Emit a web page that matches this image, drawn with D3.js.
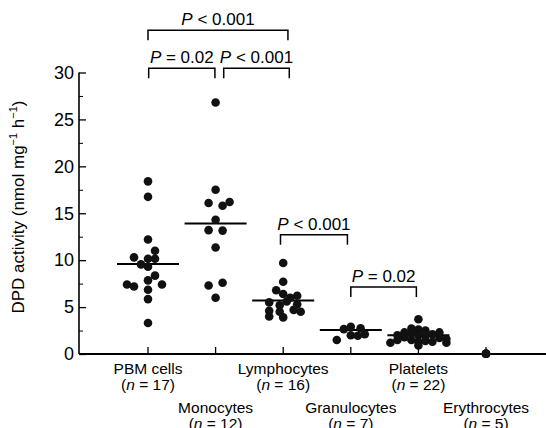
<!DOCTYPE html>
<html>
<head>
<meta charset="utf-8">
<script src="https://cdn.jsdelivr.net/npm/d3@7"></script>
<style>
  body { margin: 0; background: #fff; }
  svg { font-family: "Liberation Sans", Arial, Helvetica, sans-serif; }
</style>
</head>
<body>
<svg id="chart" width="546" height="428"></svg>
<script>
// cell groups shown along the x axis
const groups = ['PBM cells', 'Monocytes', 'Lymphocytes', 'Granulocytes', 'Platelets', 'Erythrocytes'];
const counts = [17, 12, 16, 7, 22, 5];

// each point is [DPD activity, jitter slot]
const pbm = [[18.4, 0], [16.75, 0], [12.2, 0], [11.0, 1], [10.3, -2], [10.15, 0], [10.15, 1], [9.55, -1],
  [9.3, 0], [8.35, 1], [7.85, 0], [7.4, -3], [7.2, -2], [7.4, 2], [6.85, 0], [5.85, 0], [3.3, 0]];
const monocytes = [[26.8, 0], [17.5, 0], [16.1, -1], [15.8, 1], [16.2, 2], [14.3, 0], [13.2, -1], [13.15, 1],
  [11.35, 0], [7.3, -1], [7.6, 1], [6.0, 0]];
const lymphocytes = [[9.7, 0], [7.7, 0], [6.8, -1], [6.4, 0], [6.2, 2], [6.0, 1], [5.5, -2], [5.6, 0.5],
  [5.3, 2], [5.2, -0.5], [4.6, -2], [4.5, -0.5], [4.7, 1.5], [4.5, 2.5], [4.0, -2], [3.9, 0]];
const granulocytes = [[1.5, -2], [2.65, -1], [2.9, 0], [2.75, 1.4], [2.0, 0], [1.95, 1], [2.1, 2]];
const platelets = [[3.7, 0], [2.7, -1], [2.6, 0], [2.5, 1], [2.3, -2], [2.2, -1], [2.0, 0], [2.1, 2], [2.3, 3],
  [2.0, -3], [1.9, 1], [1.8, -2], [1.7, 3], [1.6, 4], [1.5, -3], [1.5, -1], [1.4, 1], [1.3, 0], [1.3, 2],
  [1.2, -4], [1.2, 4], [0.9, 0]];
const erythrocytes = [[0.02, 0], [0.02, 0], [0.02, 0], [0.02, 0], [0.02, 0]];
const values = [pbm, monocytes, lymphocytes, granulocytes, platelets, erythrocytes];

const medians = [9.6, 13.9, 5.7, 2.55, 2.0, 0];

const yTicks = [0, 5, 10, 15, 20, 25, 30];

// significance brackets: [from index, to index, level, label]
const brackets = [
  [0, 2.07, 34.5, 'P < 0.001'],
  [0.01, 0.99, 30.45, 'P = 0.02'],
  [1.12, 2.09, 30.45, 'P < 0.001'],
  [1.96, 2.95, 12.7, 'P < 0.001'],
  [3.0, 3.97, 7.15, 'P = 0.02']
];

const svg = d3.select('#chart');
const axisX = 79, axisBottom = 354;

const x = d3.scalePoint().domain(groups).range([148, 486]);
const xi = d3.scaleLinear().domain([0, groups.length - 1]).range([148, 486]);
const y = d3.scaleLinear().domain([0, 30]).range([axisBottom, 72.5]);
const slot = 7;

// y axis, ticks pointing inwards
const yAxis = svg.append('g')
  .attr('transform', `translate(${axisX},0)`)
  .call(d3.axisRight(y).tickValues(yTicks).tickSize(7).tickFormat(''));
yAxis.select('.domain').attr('d', `M0,${y(30)}V${axisBottom}`).attr('stroke-width', 1.6);
yAxis.selectAll('.tick line').attr('stroke-width', 1.3);
svg.append('g')
  .attr('transform', `translate(${axisX},0)`)
  .call(d3.axisRight(y).tickValues(d3.range(2.5, 30, 5)).tickSize(4).tickFormat(''))
  .call(g => g.select('.domain').remove());

svg.append('g').selectAll('text')
  .data(yTicks).join('text')
  .attr('x', axisX - 5).attr('y', d => y(d))
  .attr('dy', '0.35em')
  .attr('text-anchor', 'end')
  .attr('font-size', 18)
  .text(d => d);

// x axis, ticks pointing up
svg.append('line')
  .attr('x1', axisX).attr('x2', 546)
  .attr('y1', axisBottom).attr('y2', axisBottom)
  .attr('stroke', '#000').attr('stroke-width', 1.8);
svg.append('g').selectAll('line')
  .data(groups).join('line')
  .attr('x1', d => x(d)).attr('x2', d => x(d))
  .attr('y1', axisBottom).attr('y2', axisBottom - 7)
  .attr('stroke', '#000').attr('stroke-width', 1.3);

// category labels in two staggered rows
const labels = svg.append('g').attr('font-size', 15.5).attr('text-anchor', 'middle');
groups.forEach((g, i) => {
  const base = i % 2 === 0 ? 374 : 413;
  labels.append('text').attr('x', x(g)).attr('y', base).text(g);
  const t = labels.append('text').attr('x', x(g)).attr('y', base + 16);
  t.append('tspan').text('(');
  t.append('tspan').attr('font-style', 'italic').text('n');
  t.append('tspan').text(' = ' + counts[i] + ')');
});

// y axis title
const yTitle = svg.append('text')
  .attr('transform', 'translate(24,207) rotate(-90)')
  .attr('text-anchor', 'middle')
  .attr('font-size', 17);
yTitle.append('tspan').text('DPD activity (nmol mg');
yTitle.append('tspan').attr('font-size', 11).attr('dy', -7).text('\u22121');
yTitle.append('tspan').attr('dy', 7).text(' h');
yTitle.append('tspan').attr('font-size', 11).attr('dy', -7).text('\u22121');
yTitle.append('tspan').attr('dy', 7).text(')');

// median lines
svg.append('g').selectAll('line')
  .data(groups).join('line')
  .attr('x1', d => x(d) - 31).attr('x2', (d, i) => x(d) + 31)
  .attr('y1', (d, i) => y(medians[i])).attr('y2', (d, i) => y(medians[i]))
  .attr('stroke', '#000').attr('stroke-width', 2);

// points
groups.forEach((g, i) => {
  svg.append('g').selectAll('circle')
    .data(values[i]).join('circle')
    .attr('cx', d => x(g) + d[1] * slot)
    .attr('cy', d => y(d[0]))
    .attr('r', 4.3)
    .attr('fill', '#111');
});

// brackets
const br = svg.append('g');
brackets.forEach(([a, b, level, label]) => {
  const x0 = xi(a), x1 = xi(b), yy = y(level);
  br.append('path')
    .attr('d', `M${x0},${yy + 10}V${yy}H${x1}V${yy + 10}`)
    .attr('fill', 'none').attr('stroke', '#000').attr('stroke-width', 1.5);
  const t = br.append('text')
    .attr('x', (x0 + x1) / 2).attr('y', yy - 5)
    .attr('text-anchor', 'middle').attr('font-size', 17);
  t.append('tspan').attr('font-style', 'italic').text(label.slice(0, 1));
  t.append('tspan').text(label.slice(1));
});
</script>
</body>
</html>
